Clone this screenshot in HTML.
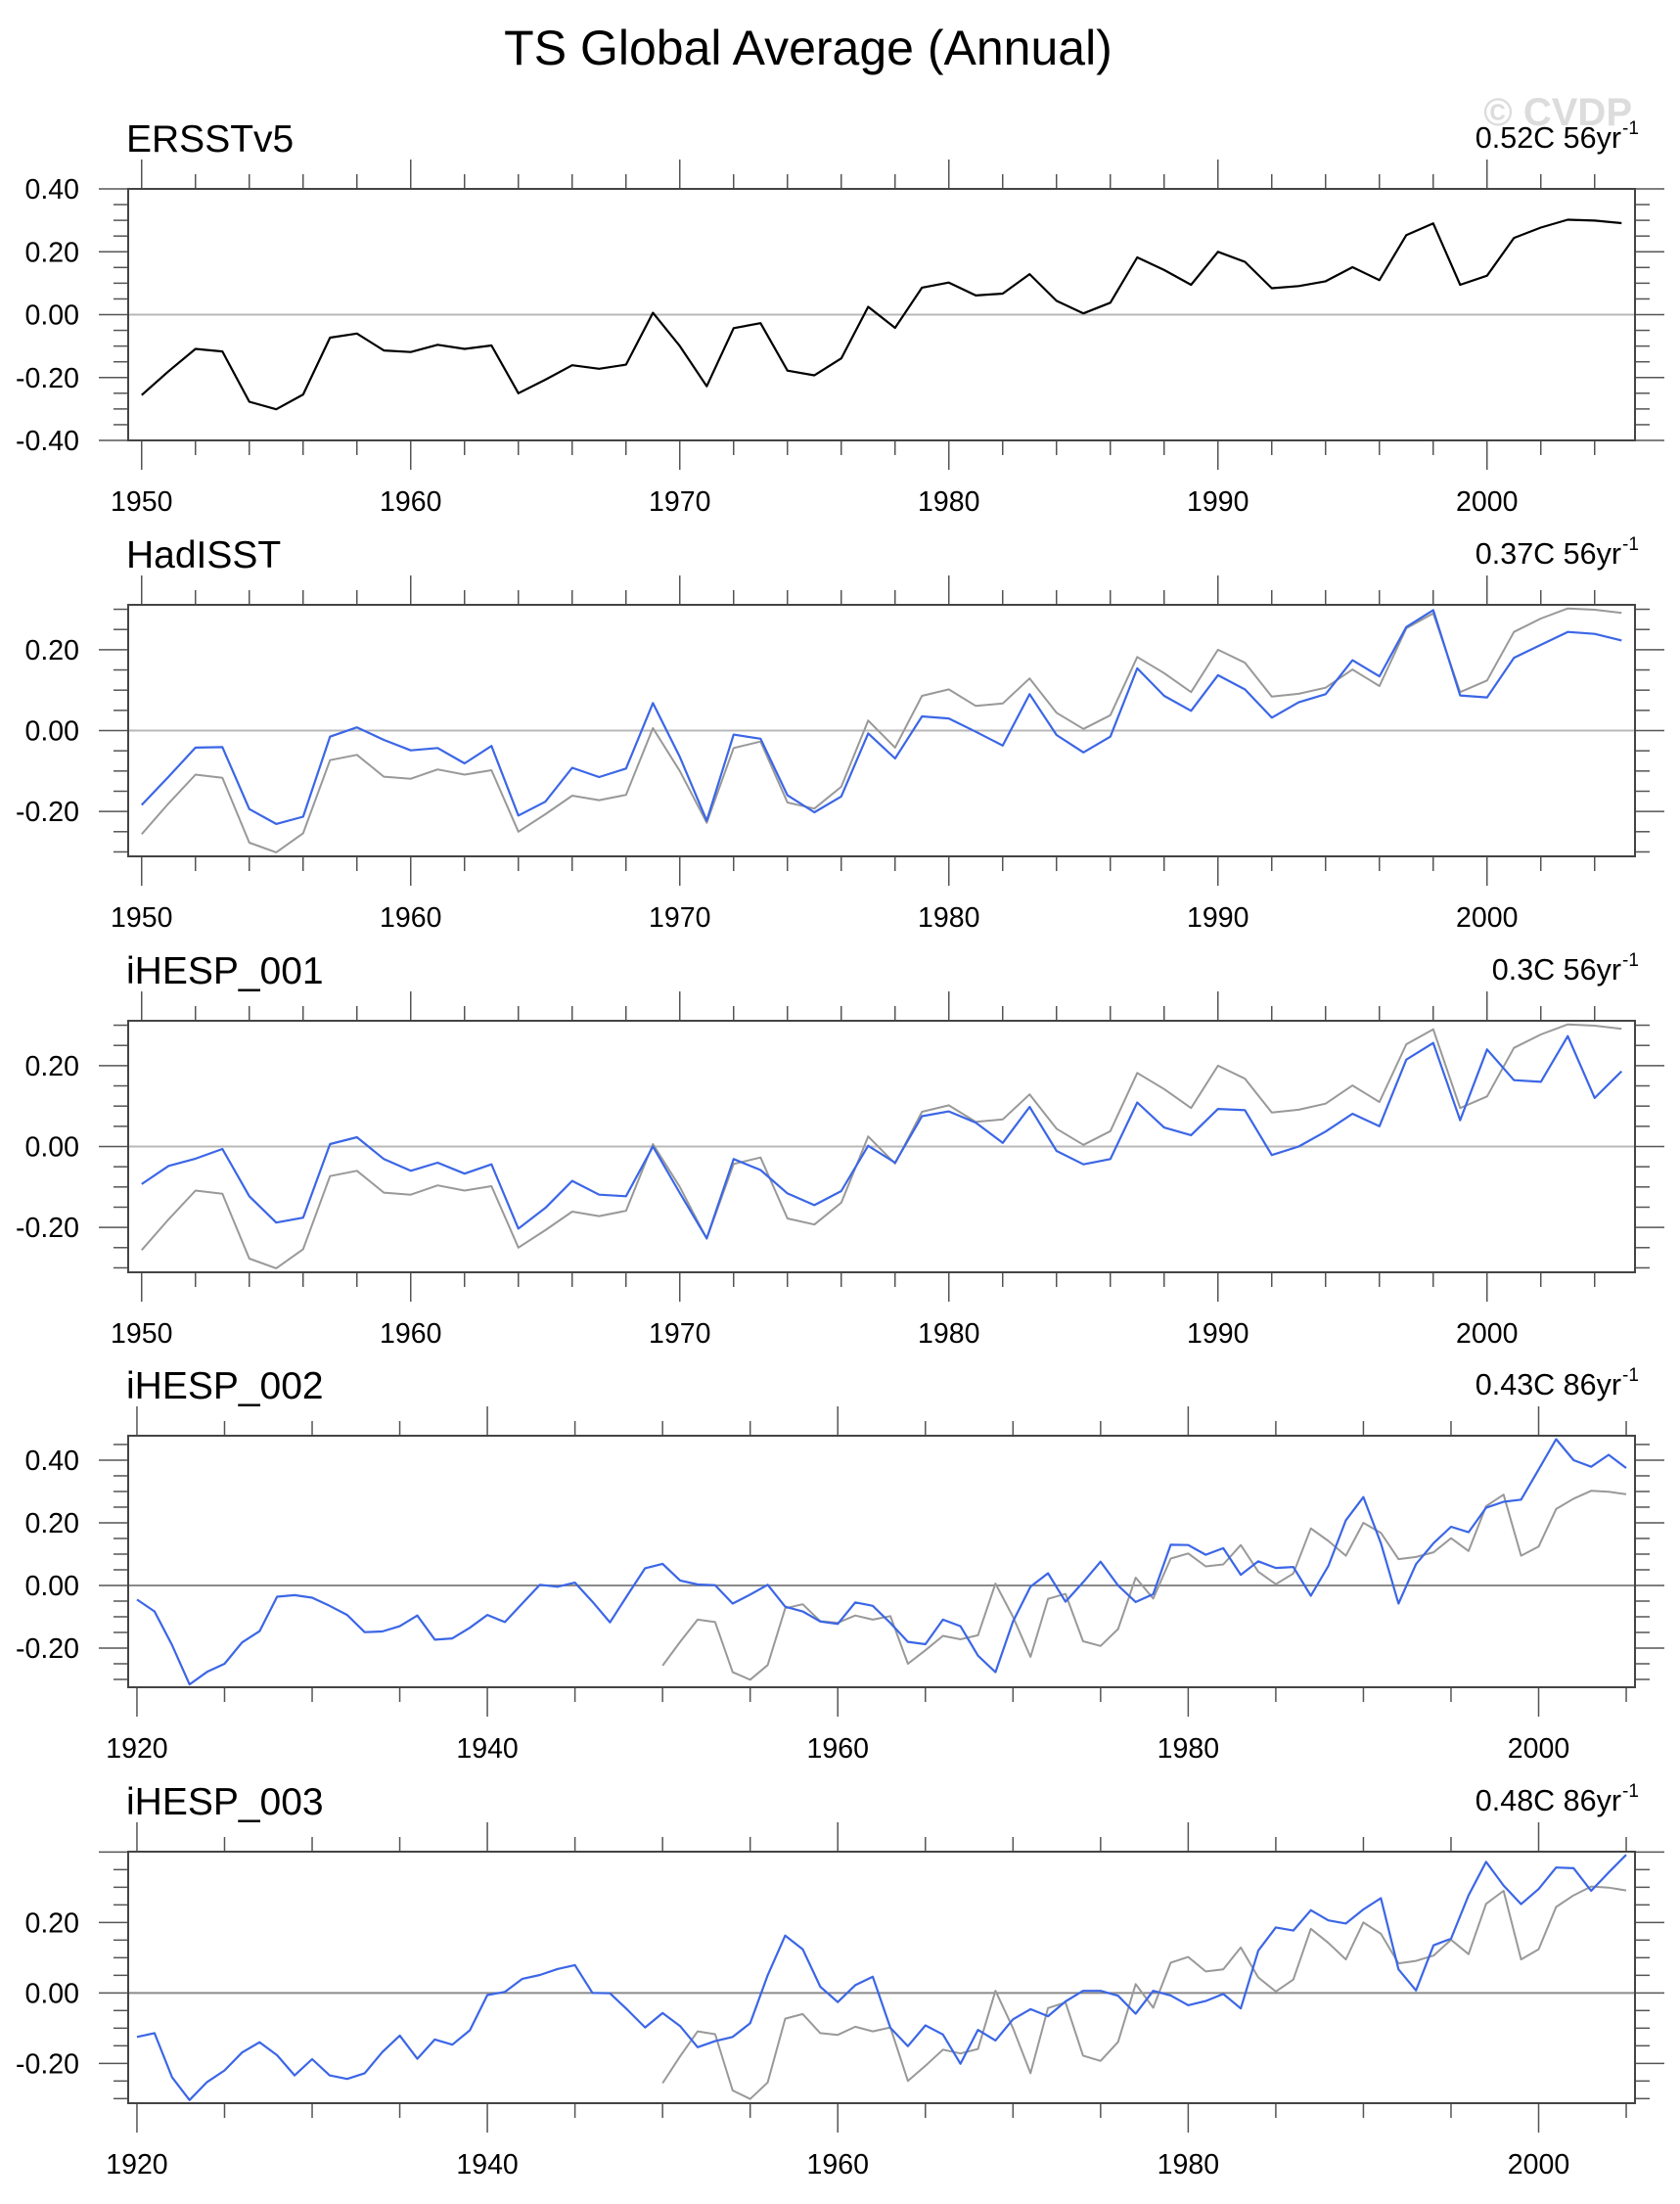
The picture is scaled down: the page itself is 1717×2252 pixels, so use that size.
<!DOCTYPE html>
<html><head><meta charset="utf-8"><style>
body{margin:0;background:#fff}
svg{display:block}
text{font-family:"Liberation Sans",sans-serif;fill:#000}
</style></head><body>
<svg id="chart" width="1717" height="2252" viewBox="0 0 1717 2252" xmlns="http://www.w3.org/2000/svg">
<text x="826" y="66" font-size="50" text-anchor="middle">TS Global Average (Annual)</text>
<text x="1668" y="128" font-size="40" font-weight="bold" text-anchor="end" style="fill:#dcdcdc">© CVDP</text>
</svg>
<script>
const ersst = [-0.256,-0.18,-0.109,-0.117,-0.277,-0.301,-0.254,-0.073,-0.060,-0.114,-0.119,-0.096,-0.109,-0.098,-0.25,-0.207,-0.161,-0.172,-0.159,0.006,-0.10,-0.228,-0.043,-0.027,-0.178,-0.193,-0.139,0.025,-0.042,0.086,0.102,0.061,0.067,0.129,0.044,0.004,0.038,0.182,0.142,0.095,0.20,0.168,0.084,0.091,0.106,0.151,0.11,0.253,0.29,0.095,0.124,0.244,0.277,0.302,0.299,0.291];
const hadisst = [-0.184,-0.114,-0.042,-0.041,-0.194,-0.231,-0.213,-0.015,0.008,-0.023,-0.049,-0.043,-0.081,-0.038,-0.21,-0.176,-0.092,-0.115,-0.094,0.068,-0.065,-0.223,-0.010,-0.020,-0.160,-0.202,-0.163,-0.007,-0.069,0.035,0.030,-0.003,-0.037,0.090,-0.011,-0.054,-0.015,0.154,0.086,0.049,0.137,0.102,0.032,0.070,0.09,0.174,0.134,0.256,0.298,0.087,0.082,0.18,0.212,0.244,0.239,0.223];
const ihesp001 = [-0.093,-0.048,-0.030,-0.006,-0.123,-0.188,-0.176,0.006,0.023,-0.031,-0.060,-0.040,-0.067,-0.044,-0.203,-0.152,-0.085,-0.119,-0.123,0.0,-0.115,-0.227,-0.031,-0.058,-0.116,-0.145,-0.110,0.002,-0.040,0.075,0.087,0.059,0.009,0.098,-0.011,-0.044,-0.031,0.109,0.047,0.028,0.093,0.09,-0.021,0.0,0.037,0.081,0.050,0.215,0.256,0.065,0.24,0.164,0.160,0.273,0.12,0.186];
const ihesp002 = [-0.045,-0.083,-0.19,-0.316,-0.276,-0.25,-0.182,-0.146,-0.036,-0.031,-0.039,-0.065,-0.094,-0.149,-0.147,-0.13,-0.096,-0.173,-0.169,-0.135,-0.094,-0.117,-0.057,0.002,-0.004,0.009,-0.052,-0.118,-0.031,0.055,0.069,0.016,0.003,0.001,-0.058,-0.029,0.002,-0.068,-0.083,-0.115,-0.123,-0.054,-0.065,-0.12,-0.18,-0.1875,-0.109,-0.13,-0.224,-0.277,-0.115,-0.004,0.039,-0.052,0.01,0.076,0,-0.053,-0.028,0.13,0.129,0.098,0.119,0.034,0.077,0.056,0.059,-0.033,0.062,0.208,0.282,0.135,-0.058,0.068,0.135,0.1875,0.17,0.248,0.267,0.274,0.37,0.467,0.40,0.379,0.417,0.375];
const ihesp003 = [-0.125,-0.114,-0.239,-0.304,-0.253,-0.22,-0.169,-0.14,-0.177,-0.234,-0.188,-0.234,-0.244,-0.228,-0.168,-0.121,-0.187,-0.132,-0.147,-0.106,-0.006,0.003,0.04,0.051,0.068,0.079,0.0,-0.001,-0.048,-0.098,-0.057,-0.094,-0.154,-0.137,-0.125,-0.086,0.05,0.163,0.124,0.018,-0.026,0.022,0.046,-0.099,-0.151,-0.092,-0.118,-0.201,-0.105,-0.135,-0.075,-0.046,-0.066,-0.024,0.006,0.006,-0.008,-0.059,0.006,-0.007,-0.035,-0.023,-0.003,-0.044,0.12,0.186,0.177,0.235,0.206,0.197,0.237,0.269,0.067,0.007,0.135,0.154,0.277,0.372,0.305,0.252,0.295,0.356,0.354,0.29,0.342,0.392];
const panelTitles = ["ERSSTv5","HadISST","iHESP_001","iHESP_002","iHESP_003"];
const trendLabels = ["0.52C 56yr","0.37C 56yr","0.3C 56yr","0.43C 86yr","0.48C 86yr"];
const startYears = [1950,1950,1950,1920,1920];
const yLabelTicks = [[-0.4,-0.2,0,0.2,0.4],[-0.2,0,0.2],[-0.2,0,0.2],[-0.2,0,0.2,0.4],[-0.2,0,0.2]];

const svg = document.getElementById('chart');
const NS = 'http://www.w3.org/2000/svg';
function mk(tag, attrs, parent){const e=document.createElementNS(NS,tag);for(const k in attrs)e.setAttribute(k,attrs[k]);(parent||svg).appendChild(e);return e;}

const L=131,R=1671,H=257;
const tops=[193,618,1043,1467,1892];
const yRanges=[[-0.4,0.4],[-0.311,0.311],[-0.311,0.311],[-0.325,0.478],[-0.313,0.401]];
const panelSeries=[[ersst],[ersst,hadisst],[ersst,ihesp001],[ersst,ihesp002],[ersst,ihesp003]];

for(let p=0;p<5;p++){
  const top=tops[p],bot=top+H;
  const x0=startYears[p]-0.5,x1=2005.5;
  const [ymin,ymax]=yRanges[p];
  const X=yr=>L+(yr-x0)/(x1-x0)*(R-L);
  const Y=v=>bot-(v-ymin)/(ymax-ymin)*H;
  const g=mk('g',{});
  
  
  const t=mk('text',{x:129,y:top-38,'font-size':39},g);t.textContent=panelTitles[p];
  
  
  const tr=mk('text',{x:1657,y:top-42,'font-size':30.5,'text-anchor':'end'},g);tr.textContent=trendLabels[p];
  
  
  const sup=mk('text',{x:1658,y:top-56,'font-size':19},g);sup.textContent='-1';
  
  
  const z=mk('line',{x1:L,x2:R,y1:Y(0),y2:Y(0),stroke:p<3?'#b8b8b8':'#8a8a8a','stroke-width':2},g);
  
  
  const majStep=startYears[p]===1950?10:20, minStep=startYears[p]===1950?2:5;
  for(let yr=startYears[p];yr<=2005;yr+=minStep){
    const major=(yr%majStep===0);const len=major?30:15;const x=X(yr);
    const t1=mk('line',{x1:x,x2:x,y1:top,y2:top-len,stroke:'#555','stroke-width':1.5},g);
    
    
    const t2=mk('line',{x1:x,x2:x,y1:bot,y2:bot+len,stroke:'#555','stroke-width':1.5},g);
    
    
    if(major){const lb=mk('text',{x:x,y:bot+72,'font-size':28.5,'text-anchor':'middle'},g);lb.textContent=yr;
      
      }
  }
  for(let k=Math.ceil(ymin/0.05-1e-6);k*0.05<=ymax+1e-6;k++){
    const v=k*0.05;const major=(k%4===0);const len=major?30:15;const y=Y(v);
    const a=mk('line',{x1:L,x2:L-len,y1:y,y2:y,stroke:'#555','stroke-width':1.5},g);
    
    
    const b=mk('line',{x1:R,x2:R+len,y1:y,y2:y,stroke:'#555','stroke-width':1.5},g);
    
    
  }
  yLabelTicks[p].forEach(v=>{
    const lb=mk('text',{x:81,y:Y(v)+10,'font-size':28.5,'text-anchor':'end'},g);lb.textContent=v.toFixed(2);
    
    
  });
  panelSeries[p].forEach((s,i)=>{
    const color = p===0?'#000':(i===0?'#999':'#3b66e6');
    const pts=s.map((v,j)=>X(1950+(s.length===86?-30:0)+j).toFixed(1)+','+Y(v).toFixed(1)).join(' ');
    const pl=mk('polyline',{points:pts,fill:'none',stroke:color,'stroke-width':p===0?2.2:(i===0?2:2.2),'stroke-linejoin':'round'},g);
    
    
  });
  const fr=mk('rect',{x:L,y:top,width:R-L,height:H,fill:'none',stroke:'#444','stroke-width':2},g);
  
  
}
</script>
</body></html>
